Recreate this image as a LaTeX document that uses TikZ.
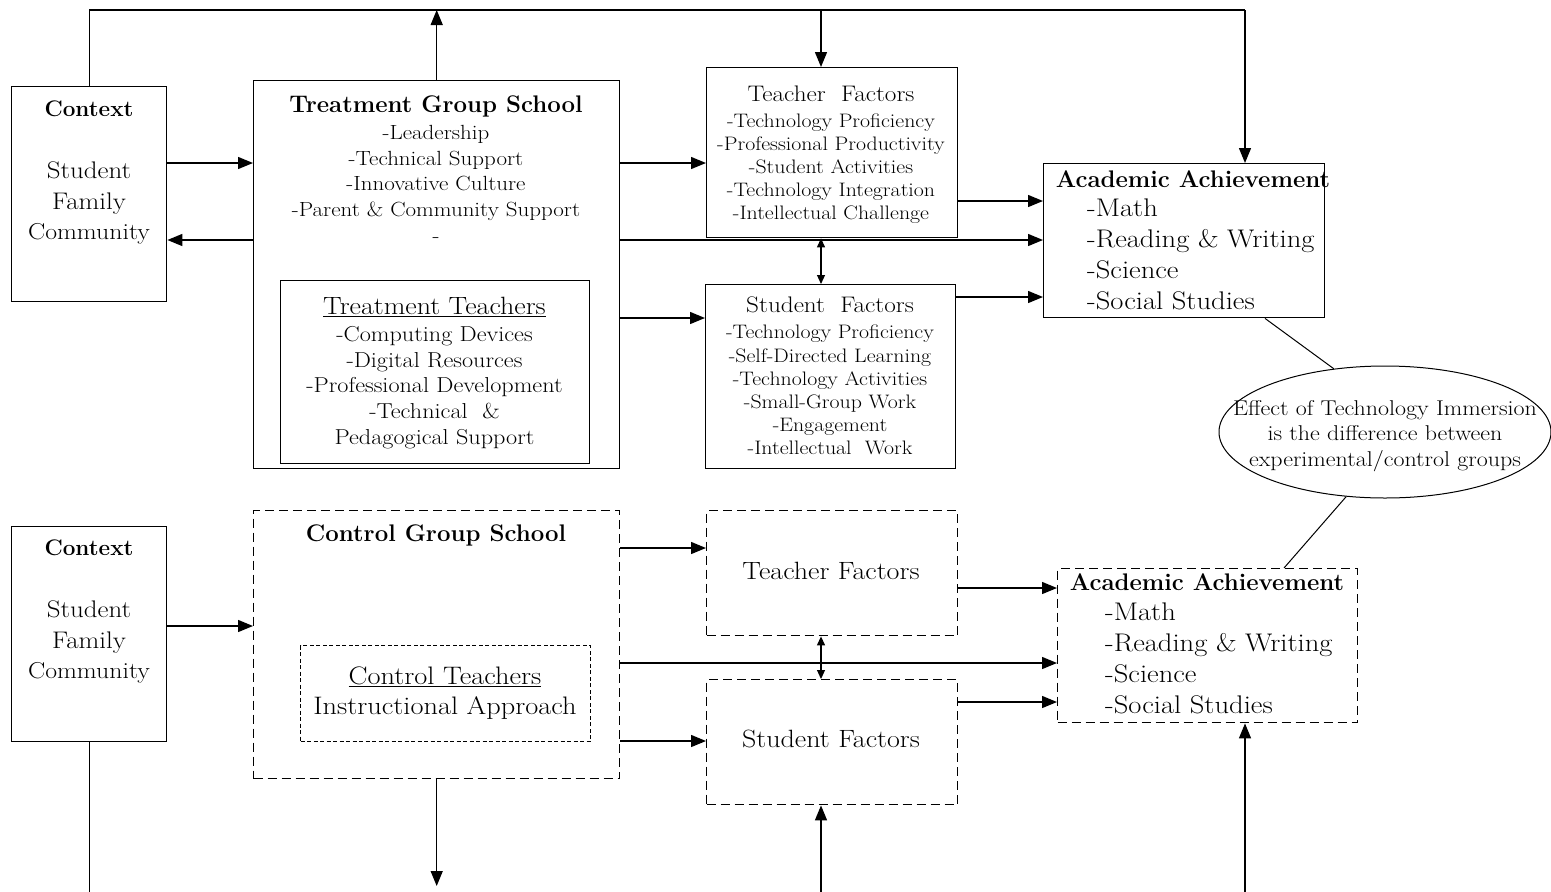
\documentclass[tikz,border=0pt]{standalone}
\usepackage{fontspec}
\newfontfamily\rg{Latin Modern Roman}[FakeStretch=1.12]
\usetikzlibrary{arrows.meta,shapes.geometric,calc}
\newcommand{\fs}[2]{\fontsize{#1}{#2}\selectfont}
\begin{document}
\begin{tikzpicture}[x=1pt,y=-1pt,
  bx/.style={draw=black, line width=1.4pt, inner sep=0pt, anchor=north west},
  dbx/.style={bx, dash pattern=on 9pt off 5pt},
  fbx/.style={bx, line width=1.2pt, dash pattern=on 4pt off 2.5pt},
  ln/.style={line width=1.4pt},
  arr/.style={line width=1.4pt, -{Triangle[length=15pt,width=12pt]}},
  darr/.style={line width=1.2pt, {Triangle[length=9pt,width=8pt]}-{Triangle[length=9pt,width=8pt]}},
  txt/.style={inner sep=0pt, align=center, anchor=north},
  ltxt/.style={inner sep=0pt, align=left, anchor=north west}]
\useasboundingbox (0,0) rectangle (1551,892);

% ---------- treatment group ----------
\node[bx, minimum width=155pt, minimum height=215pt] (ctxT) at (11,86) {};
\node[bx, minimum width=366pt, minimum height=388pt] (tgs) at (253,80) {};
\node[bx, minimum width=309pt, minimum height=183pt] (tt) at (280,280) {};
\node[bx, minimum width=251pt, minimum height=170pt] (tf) at (706,67) {};
\node[bx, minimum width=250pt, minimum height=184pt] (sf) at (705,284) {};
\node[bx, minimum width=281pt, minimum height=154pt] (aa) at (1043,163) {};
\node[draw, ellipse, line width=1pt, minimum width=332pt, minimum height=132pt] (eff) at (1385,432) {};

% texts
\node[txt, font=\fs{22.5}{27}\bfseries] (ctxTt) at (89,101) {Context};
\node[txt, font=\fs{24}{31}\rg] (ctxTs) at (89,162) {Student\\Family};
\node[txt, font=\fs{23}{26}\rg] (ctxTc) at (89,223) {Community};

\node[txt, font=\fs{24}{28}\bfseries] (tgst) at (436,96) {Treatment Group School};
\node[txt, font=\fs{20.5}{25.7}\rg] (tgsi) at (436,125) {-Leadership\\-Technical Support\\-Innovative Culture\\-Parent \& Community Support\\-};

\node[txt, font=\fs{25}{27}\rg] (ttt) at (434.5,297) {\underline{Treatment Teachers}};
\node[txt, font=\fs{21.6}{25.8}\rg] (tti) at (434.5,326) {-Computing Devices\\-Digital Resources\\-Professional Development\\-Technical~~\&\\Pedagogical Support};

\node[txt, font=\fs{22.5}{26}\rg] (tft) at (831,86) {Teacher~~Factors};
\node[txt, font=\fs{19.5}{23}\rg] (tfi) at (831,114) {-Technology Proficiency\\-Professional Productivity\\-Student Activities\\-Technology Integration\\-Intellectual Challenge};

\node[txt, font=\fs{22.5}{26}\rg] (sft) at (830,297) {Student~~Factors};
\node[txt, font=\fs{19.5}{23.2}\rg] (sfi) at (830,325) {-Technology Proficiency\\-Self-Directed Learning\\-Technology Activities\\-Small-Group Work\\-Engagement\\-Intellectual~~Work};

\node[txt, font=\fs{24}{27}\bfseries] (aat) at (1193,170) {Academic Achievement};
\node[ltxt, font=\fs{25.5}{31}\rg] (aai) at (1087,199) {-Math\\-Reading \& Writing\\-Science\\-Social Studies};

\node[txt, font=\fs{21.4}{25.5}\rg] (efft) at (1385,400) {Effect of Technology Immersion\\is the difference between\\experimental/control groups};

% connectors
\coordinate (topR) at (1245,10);
\coordinate (topM) at (821,10);
\draw[ln] (ctxT.north) |- (topR);
\draw[arr] (topR) -- (topR |- aa.north);
\draw[arr] (tgs.north) -- (tgs.north |- topR);
\draw[arr] (topM) -- (topM |- tf.north);
\draw[arr] (ctxT.east |- 0,163) -- (tgs.west |- 0,163);
\draw[arr] (tgs.west |- 0,240) -- (ctxT.east |- 0,240);
\draw[arr] (tgs.east |- 0,163) -- (tf.west |- 0,163);
\draw[arr] (tgs.east |- 0,240) -- (aa.west |- 0,240);
\draw[arr] (tgs.east |- 0,318) -- (sf.west |- 0,318);
\draw[arr] (tf.east |- 0,201) -- (aa.west |- 0,201);
\draw[arr] (sf.east |- 0,297) -- (aa.west |- 0,297);
\draw[darr] (topM |- tf.south) -- (topM |- sf.north);
\draw[line width=1pt] (aa.south -| 1265,0) -- (eff.129);

% ---------- control group ----------
\node[bx, minimum width=155pt, minimum height=215pt] (ctxC) at (11,526) {};
\node[dbx, minimum width=366pt, minimum height=268pt] (cgs) at (253,510) {};
\node[fbx, minimum width=290pt, minimum height=96pt] (ct) at (300,645) {};
\node[dbx, minimum width=251pt, minimum height=125pt] (tfc) at (706,510) {};
\node[dbx, minimum width=251pt, minimum height=125pt] (sfc) at (706,679) {};
\node[dbx, minimum width=300pt, minimum height=154pt] (aac) at (1057,568) {};

\node[txt, font=\fs{22.5}{27}\bfseries] (ctxCt) at (89,540) {Context};
\node[txt, font=\fs{24}{31}\rg] (ctxCs) at (89,601) {Student\\Family};
\node[txt, font=\fs{23}{26}\rg] (ctxCc) at (89,662) {Community};

\node[txt, font=\fs{24}{28}\bfseries] (cgst) at (436,525) {Control Group School};
\node[txt, font=\fs{25.3}{30}\rg] (ctt) at (445,667) {\underline{Control Teachers}\\Instructional Approach};

\node[txt, font=\fs{25}{27}\rg] (tfct) at (831,562) {Teacher Factors};
\node[txt, font=\fs{25}{27}\rg] (sfct) at (831,730) {Student Factors};

\node[txt, font=\fs{24}{27}\bfseries] (aact) at (1207,573) {Academic Achievement};
\node[ltxt, font=\fs{25.5}{31}\rg] (aaci) at (1105,603) {-Math\\-Reading \& Writing\\-Science\\-Social Studies};

\coordinate (botL) at (89,892);
\coordinate (botM) at (821,892);
\coordinate (botR) at (1245,892);
\coordinate (botC) at (436,886);
\draw[ln] (ctxC.south) -- (ctxC.south |- botL);
\draw[arr] (cgs.south) -- (cgs.south |- botC);
\draw[arr] (botM) -- (botM |- sfc.south);
\draw[arr] (botR) -- (botR |- aac.south);
\draw[arr] (ctxC.east |- 0,626) -- (cgs.west |- 0,626);
\draw[arr] (cgs.east |- 0,548) -- (tfc.west |- 0,548);
\draw[arr] (cgs.east |- 0,663) -- (aac.west |- 0,663);
\draw[arr] (cgs.east |- 0,741) -- (sfc.west |- 0,741);
\draw[arr] (tfc.east |- 0,588) -- (aac.west |- 0,588);
\draw[arr] (sfc.east |- 0,702) -- (aac.west |- 0,702);
\draw[darr] (topM |- tfc.south) -- (topM |- sfc.north);
\draw[line width=1pt] (eff.239) -- (aac.north -| 1284,0);
\end{tikzpicture}
\end{document}
